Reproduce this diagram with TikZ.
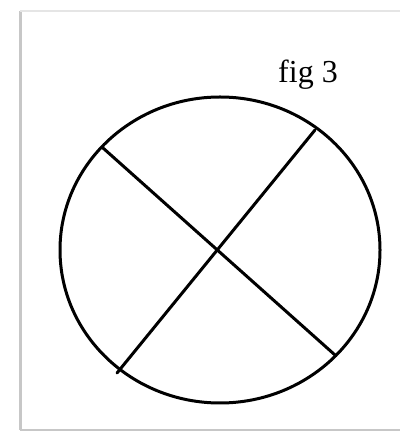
\documentclass[tikz,border=0pt]{standalone}
\usepackage{fontspec}
\setmainfont{Liberation Serif}
\usepackage{tikz}
\usetikzlibrary{calc}
\colorlet{FrameGray}{black!22}
\colorlet{FrameLight}{black!10}

\begin{document}
\begin{tikzpicture}[
      x=1pt,y=1pt,
      rim/.style={line width=3pt,black},
      chord/.style={line width=3pt,black,line cap=round},
      figlabel/.style={font=\fontsize{32}{34}\selectfont,inner sep=0pt,anchor=base}
    ]
    \useasboundingbox (0,0) rectangle (400,433);
    % frame
    \draw[FrameGray,line width=3pt] (20.5,3) -- (20.5,422);
    \draw[FrameLight,line width=1.2pt] (20,422) -- (400,422);
    \draw[FrameGray,line width=1.5pt] (20,3) -- (400,3);
    % circle and chords
    \coordinate (ctr) at (220,183);
    \draw[rim] (ctr) ellipse[x radius=160,y radius=153];
    \coordinate (nw) at (103,285);
    \coordinate (se) at (335,78);
    \coordinate (ne) at (315,303);
    \coordinate (sw) at (117,60);
    \draw[chord] (nw) -- (se);
    \draw[chord] (ne) -- (sw);
    \node[figlabel] (lbl) at (308,350) {fig 3};
  \end{tikzpicture}
\end{document}
